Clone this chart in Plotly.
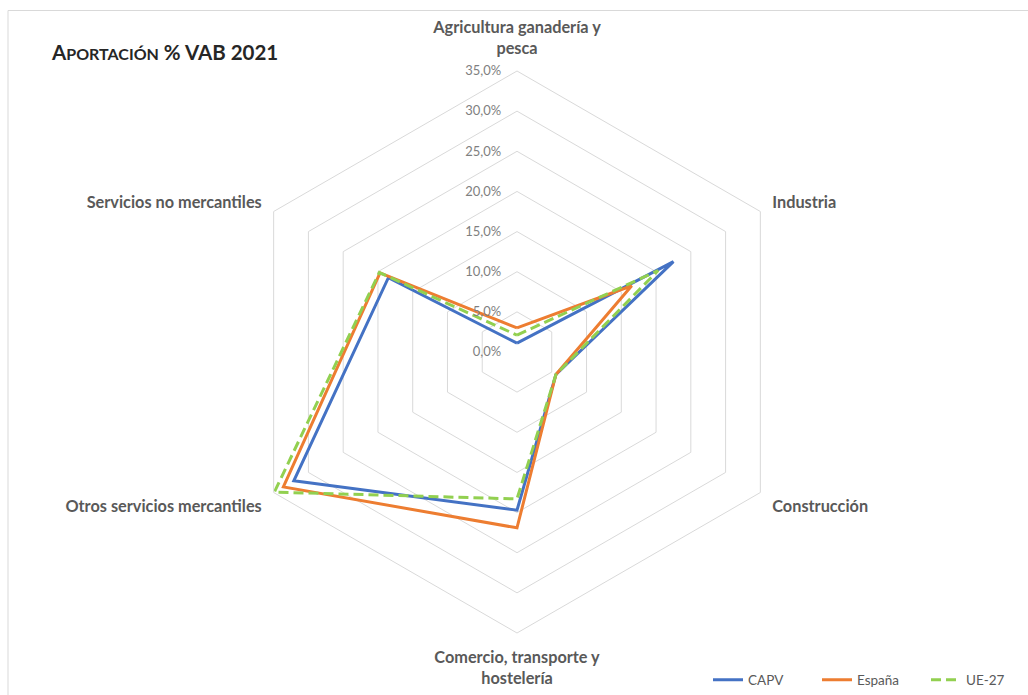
import plotly.graph_objects as go

# Sector shares of gross value added (VAB), 2021, in %
sectores = [
    "Agricultura ganadería y<br>pesca",
    "Industria",
    "Construcción",
    "Comercio, transporte y<br>hostelería",
    "Otros servicios mercantiles",
    "Servicios no mercantiles",
]
capv = [1.1, 22.5, 5.6, 19.7, 32.1, 18.5]
espana = [3.0, 16.5, 5.6, 21.9, 33.6, 19.7]
ue27 = [2.1, 20.3, 5.6, 18.3, 34.9, 19.8]

radial_ticks = [0, 5, 10, 15, 20, 25, 30, 35]
# comma decimals, padded with non-breaking spaces to sit clear of the axis
radial_labels = [f"{v:.1f}%".replace(".", ",") + "\u00a0\u00a0\u00a0\u00a0" for v in radial_ticks]

W, H = 1028, 695
CX, CY, R = 517, 352, 281  # centre and outer radius of the radar, px


def closed(vals):
    return vals + vals[:1]


series = [
    ("CAPV", capv, "#4472C4", "solid"),
    ("España", espana, "#ED7D31", "solid"),
    ("UE-27", ue27, "#92D050", "10px,5px"),
]

fig = go.Figure()
for name, vals, color, dash in series:
    fig.add_trace(go.Scatterpolar(
        r=closed(vals),
        theta=closed(sectores),
        mode="lines",
        name=name,
        line=dict(color=color, width=3, dash=dash),
        hoverinfo="skip",
    ))

grid = "#D9D9D9"
fig.update_layout(
    width=W,
    height=H,
    margin=dict(l=0, r=0, t=0, b=0, autoexpand=False),
    paper_bgcolor="white",
    plot_bgcolor="white",
    separators=",.",
    font=dict(family="Lato, 'Open Sans', sans-serif", color="#595959"),
    polar=dict(
        domain=dict(x=[(CX - R) / W, (CX + R) / W],
                    y=[1 - (CY + R) / H, 1 - (CY - R) / H]),
        bgcolor="white",
        gridshape="linear",
        radialaxis=dict(
            range=[0, 35],
            tickvals=radial_ticks,
            ticktext=radial_labels,
            angle=90,
            tickangle=90,
            side="counterclockwise",
            showline=False,
            ticks="",
            gridcolor=grid,
            gridwidth=1,
            tickfont=dict(size=13, color="#7F7F7F"),
        ),
        angularaxis=dict(
            rotation=90,
            direction="clockwise",
            showgrid=False,
            showline=True,
            linecolor=grid,
            linewidth=1,
            ticks="outside",
            ticklen=10,
            tickcolor="rgba(0,0,0,0)",
            tickfont=dict(size=16.3, color="#595959", weight="bold"),
        ),
    ),
    title=dict(
        text="A<span style='font-size:16px'>PORTACIÓN</span> % VAB 2021",
        font=dict(size=20.5, color="#262626", weight="bold"),
        x=52 / W, xanchor="left", xref="paper",
        y=1 - 53 / H, yanchor="middle", yref="paper",
    ),
    legend=dict(
        orientation="h",
        x=708 / W, xanchor="left",
        y=1 - 680 / H, yanchor="middle",
        entrywidth=64,
        entrywidthmode="pixels",
        font=dict(size=13.5, color="#595959"),
        bgcolor="rgba(0,0,0,0)",
    ),
    shapes=[dict(
        type="rect", xref="paper", yref="paper",
        x0=8 / W, x1=1.01, y0=-0.01, y1=1 - 10.5 / H,
        line=dict(color="#D9D9D9", width=1),
        fillcolor="rgba(0,0,0,0)",
        layer="below",
    )],
)

fig.write_html("out.html")
